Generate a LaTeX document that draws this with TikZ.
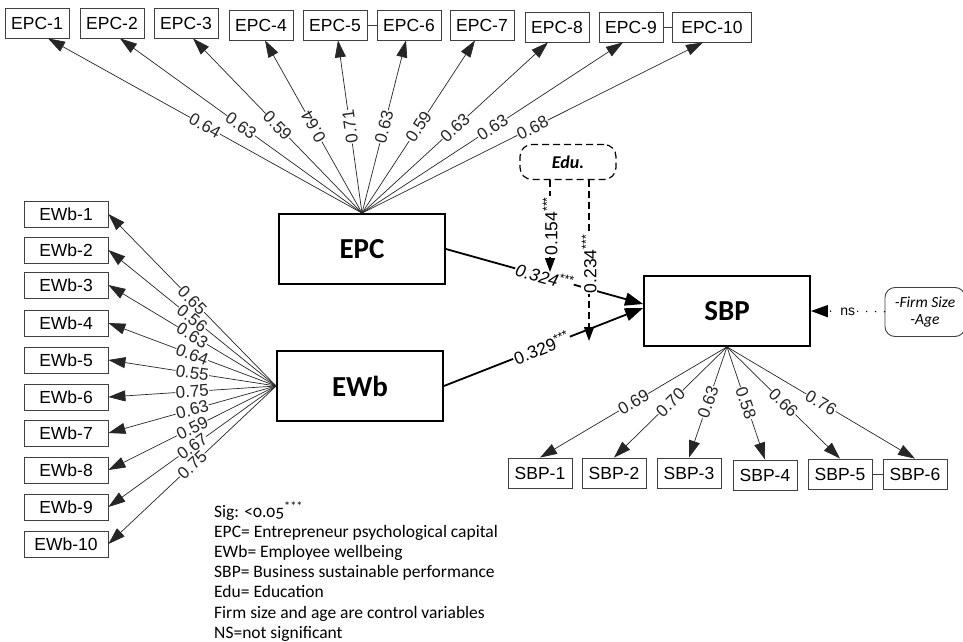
\documentclass[tikz,border=0pt]{standalone}
\usepackage{fontspec}
\setmainfont{Liberation Sans}
\newfontfamily\calfont{Carlito}[Numbers=OldStyle]
\usetikzlibrary{arrows.meta}
\tikzset{
  obs/.style  ={draw=black!75,line width=0.8pt,minimum width=64pt,minimum height=30pt,
                inner sep=1pt,font=\fontsize{17.5}{19}\selectfont},
  obsw/.style ={obs,minimum width=84pt,minimum height=26pt},
  lat/.style  ={draw,line width=1.8pt,minimum width=166pt,minimum height=70pt,
                font=\calfont\bfseries\fontsize{29}{30}\selectfont},
  ld/.style   ={-{Triangle[length=17pt,width=11pt]},line width=0.7pt,black!85},
  wt/.style   ={fill=white,inner sep=0.4pt,sloped,font=\fontsize{17}{17}\selectfont},
  pth/.style  ={-{Triangle[length=18pt,width=13pt]},line width=1.8pt},
  mod/.style  ={-{Triangle[length=14pt,width=10pt]},line width=1.2pt,dash pattern=on 7pt off 4pt},
  coef/.style ={fill=white,inner sep=1pt,font=\fontsize{17.5}{17.5}\selectfont},
}

\begin{document}
\begin{tikzpicture}[x=1pt,y=-1pt]
\fill[white] (0,0) rectangle (963,642);
\useasboundingbox (0,0) rectangle (963,642);
% latent constructs
\node[lat] (EPC) at (362,249) {EPC};
\node[lat] (EWb) at (360,386) {EWb};
\node[lat] (SBP) at (727,311) {SBP};
% EPC items
\node[obs] (E1) at (37,23) {EPC-1};
\node[obs] (E2) at (112,23) {EPC-2};
\node[obs] (E3) at (186,23) {EPC-3};
\node[obs] (E4) at (261,25) {EPC-4};
\node[obs] (E5) at (335,25) {EPC-5};
\node[obs] (E6) at (409,25) {EPC-6};
\node[obs] (E7) at (482,25) {EPC-7};
\node[obs] (E8) at (557,27) {EPC-8};
\node[obs] (E9) at (631,27) {EPC-9};
\node[obs,minimum width=79pt] (E10) at (712,27) {EPC-10};
% EWb items
\node[obsw] (W1) at (66,214) {EWb-1};
\node[obsw] (W2) at (66,250) {EWb-2};
\node[obsw] (W3) at (66,285) {EWb-3};
\node[obsw] (W4) at (66,323) {EWb-4};
\node[obsw] (W5) at (66,360) {EWb-5};
\node[obsw] (W6) at (66,397) {EWb-6};
\node[obsw] (W7) at (66,433) {EWb-7};
\node[obsw] (W8) at (66,470) {EWb-8};
\node[obsw] (W9) at (66,507) {EWb-9};
\node[obsw] (W10) at (66,544) {EWb-10};
% SBP items
\node[obs] (S1) at (540,473) {SBP-1};
\node[obs] (S2) at (614,473) {SBP-2};
\node[obs] (S3) at (689,473) {SBP-3};
\node[obs] (S4) at (765,475) {SBP-4};
\node[obs] (S5) at (840,474) {SBP-5};
\node[obs] (S6) at (915,474) {SBP-6};
% moderator and controls
\node[draw,line width=1.2pt,dash pattern=on 7pt off 4pt,rounded corners=12pt,minimum width=96pt,
      minimum height=35pt,font=\calfont\bfseries\itshape\fontsize{18}{20}\selectfont] (Edu) at (568,162) {Edu.};
\node[draw=black!75,line width=0.9pt,rounded corners=10pt,minimum width=80pt,minimum height=49pt,
      align=center,font=\calfont\itshape\fontsize{15.5}{17}\selectfont] (Ctl) at (925,312) {-Firm Size\\-Age};
\coordinate (m1) at (550,272);
\coordinate (m2) at (589,341);

% loadings
\draw[ld] (EPC.north) -- ([xshift=11pt]E1.south) node[wt,pos=0.5]{0.64};
\draw[ld] (EPC.north) -- ([xshift=8pt]E2.south) node[wt,pos=0.5]{0.63};
\draw[ld] (EPC.north) -- ([xshift=7pt]E3.south) node[wt,pos=0.5]{0.59};
\draw[ld] (EPC.north) -- ([xshift=4pt]E4.south) node[wt,pos=0.5,allow upside down]{0.64};
\draw[ld] (EPC.north) -- ([xshift=3pt]E5.south) node[wt,pos=0.5,allow upside down]{0.71};
\draw[ld] (EPC.north) -- ([xshift=-3pt]E6.south) node[wt,pos=0.5]{0.63};
\draw[ld] (EPC.north) -- ([xshift=-7pt]E7.south) node[wt,pos=0.5]{0.59};
\draw[ld] (EPC.north) -- ([xshift=-9pt]E8.south) node[wt,pos=0.5]{0.63};
\draw[ld] (EPC.north) -- ([xshift=-8pt]E9.south) node[wt,pos=0.5]{0.63};
\draw[ld] (EPC.north) -- ([xshift=-9pt]E10.south) node[wt,pos=0.5]{0.68};
\draw[ld] (EWb.west) -- (W1.east) node[wt,pos=0.5]{0.65};
\draw[ld] (EWb.west) -- (W2.east) node[wt,pos=0.5]{0.56};
\draw[ld] (EWb.west) -- (W3.east) node[wt,pos=0.5]{0.63};
\draw[ld] (EWb.west) -- (W4.east) node[wt,pos=0.5]{0.64};
\draw[ld] (EWb.west) -- (W5.east) node[wt,pos=0.5]{0.55};
\draw[ld] (EWb.west) -- (W6.east) node[wt,pos=0.5]{0.75};
\draw[ld] (EWb.west) -- (W7.east) node[wt,pos=0.5]{0.63};
\draw[ld] (EWb.west) -- (W8.east) node[wt,pos=0.5]{0.59};
\draw[ld] (EWb.west) -- (W9.east) node[wt,pos=0.5]{0.67};
\draw[ld] (EWb.west) -- (W10.east) node[wt,pos=0.5]{0.75};
\draw[ld] (SBP.south) -- (S1.north) node[wt,pos=0.5]{0.69};
\draw[ld] (SBP.south) -- (S2.north) node[wt,pos=0.5]{0.70};
\draw[ld] (SBP.south) -- (S3.north) node[wt,pos=0.5]{0.63};
\draw[ld] (SBP.south) -- (S4.north) node[wt,pos=0.5]{0.58};
\draw[ld] (SBP.south) -- (S5.north) node[wt,pos=0.5]{0.66};
\draw[ld] (SBP.south) -- (S6.north) node[wt,pos=0.5]{0.76};
\draw[black!75,line width=0.8pt] (E5)--(E6); \draw[black!75,line width=0.8pt] (E9)--(E10);
\draw[black!75,line width=0.8pt] (S5)--(S6);

% structural paths
\draw[pth] (EPC.east) -- ([yshift=7pt]SBP.west)
  node[coef,sloped,pos=0.5,font=\itshape\fontsize{17.5}{17.5}\selectfont]{0.324\textsuperscript{***}};
\draw[pth] (EWb.east) -- ([yshift=3pt]SBP.west) node[coef,sloped,pos=0.49]{0.329\textsuperscript{***}};
\draw[mod] ([xshift=-18pt]Edu.south) -- (m1) node[coef,pos=0.5,rotate=90]{0.154\textsuperscript{***}};
\draw[mod] ([xshift=21pt]Edu.south) -- (m2) node[coef,pos=0.52,rotate=90]{0.234\textsuperscript{***}};
\draw[-{Triangle[length=17pt,width=12pt]},line width=1.6pt,dash pattern=on 0pt off 9pt,line cap=round]
  (Ctl) -- (SBP.east) node[pos=0.5,fill=white,inner sep=2pt,font=\fontsize{14}{14}\selectfont]{ns};

% key
\node[anchor=north west,align=left,inner sep=0pt,font=\calfont\fontsize{17.5}{20.2}\selectfont] (key) at (214,502)
  {Sig: <0.05\textsuperscript{***}\\
   EPC= Entrepreneur psychological capital\\
   EWb= Employee wellbeing\\
   SBP= Business sustainable performance\\
   Edu= Education\\
   Firm size and age are control variables\\
   NS=not significant};
\end{tikzpicture}
\end{document}
